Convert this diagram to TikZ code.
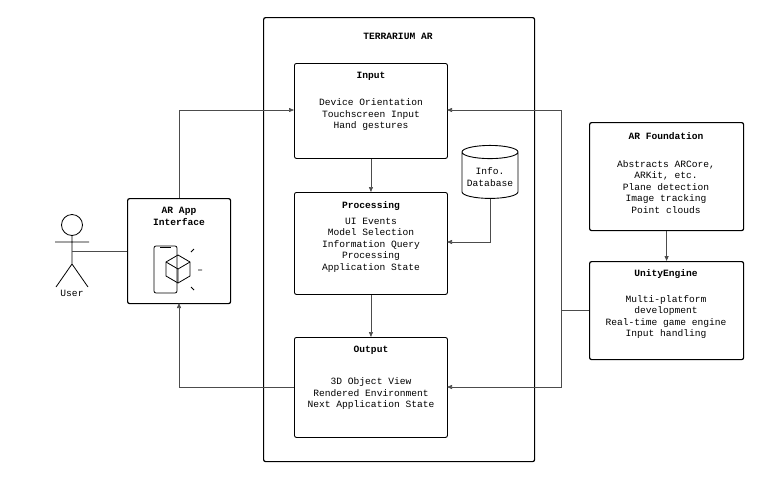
\documentclass[tikz,border=0pt]{standalone}
\usepackage{fontspec}
\setmainfont{Liberation Mono}
\usetikzlibrary{arrows.meta, positioning, calc, shapes.geometric}

\begin{document}
\begin{tikzpicture}[
    x=1pt, y=-1pt,
    box/.style={draw, line width=1.2pt, rounded corners=2pt, anchor=north west, inner sep=0pt},
    txt/.style={align=center, font=\fontsize{9.6}{11.5}\selectfont},
    ttl/.style={font=\fontsize{9.6}{12}\selectfont\bfseries, align=center},
    link/.style={draw=black!70, line width=0.6pt},
    >={Triangle[length=5pt, width=4pt]}
  ]
  \useasboundingbox (0,0) rectangle (761,480);

  % outer frame
  \node[box, minimum width=271pt, minimum height=444pt] (T) at (263,17) {};
  \node[ttl] at (398,36) {TERRARIUM AR};

  % inner blocks
  \node[box, line width=0.9pt, minimum width=153pt, minimum height=95pt] (In) at (294,63) {};
  \node[ttl] at (371,76) {Input};
  \node[txt] at (371,115) {Device Orientation\\Touchscreen Input\\Hand gestures};

  \node[box, line width=0.9pt, minimum width=153pt, minimum height=102pt] (Pr) at (294,192) {};
  \node[ttl] at (371,206) {Processing};
  \node[txt] at (371,245) {UI Events\\Model Selection\\Information Query\\Processing\\Application State};

  \node[box, line width=0.9pt, minimum width=153pt, minimum height=100pt] (Out) at (294,337) {};
  \node[ttl] at (371,350) {Output};
  \node[txt] at (371,394) {3D Object View\\Rendered Environment\\Next Application State};

  % database
  \node[cylinder, shape border rotate=90, draw, line width=0.9pt, aspect=0.25,
        minimum width=56pt, minimum height=53pt, txt] (DB) at (490,177) {Info.\\Database};

  % AR app
  \node[box, minimum width=103pt, minimum height=105pt] (App) at (127,198) {};
  \node[ttl] at (179,216) {AR App\\Interface};
  \draw[line width=0.8pt, rounded corners=2pt] (154,246) rectangle (177,293);
  \draw[line width=0.8pt] (160,247) -- (171,247);
  \draw[line width=0.8pt] (166,262) -- (178,255) -- (190,262) -- (190,276) -- (178,283) -- (166,276) -- cycle;
  \draw[line width=0.8pt] (166,262) -- (178,269) -- (190,262) (178,269) -- (178,283);
  \draw[line width=0.8pt] (191,252) -- (194,249) (198,270) -- (202,270) (191,287) -- (194,290);

  % user
  \node[circle, draw, line width=0.8pt, minimum size=21pt, inner sep=0pt] (Head) at (72,225) {};
  \coordinate (Hip) at (72,264);
  \draw[line width=0.8pt] (Head.south) -- (Hip) (55,242) -- (89,242) (Hip) -- (56,287) (Hip) -- (88,287);
  \node[txt] (User) at (72,293) {User};

  % right side
  \node[box, minimum width=154pt, minimum height=108pt] (ARF) at (589,122) {};
  \node[ttl] at (666,136) {AR Foundation};
  \node[txt] at (666,187) {Abstracts ARCore,\\ARKit, etc.\\Plane detection\\Image tracking\\Point clouds};

  \node[box, minimum width=154pt, minimum height=98pt] (UE) at (589,261) {};
  \node[ttl] at (666,274) {UnityEngine};
  \node[txt] at (666,317) {Multi-platform\\development\\Real-time game engine\\Input handling};

  % connectors
  \draw[link, ->] (In) -- (Pr);
  \draw[link, ->] (Pr) -- (Out);
  \draw[link, ->] (DB.south) |- (447,242);
  \draw[link, ->, line width=1pt] (ARF) -- (UE);
  \draw[link] (72,251) -- (127,251);
  \draw[link, ->] (179,198) |- (294,110);
  \draw[link, ->] (294,387) -| (179,303);
  \coordinate (J) at (561,310);
  \draw[link] (589,310) -- (J);
  \draw[link, ->] (J) |- (447,110);
  \draw[link, ->] (J) |- (447,387);
\end{tikzpicture}
\end{document}
